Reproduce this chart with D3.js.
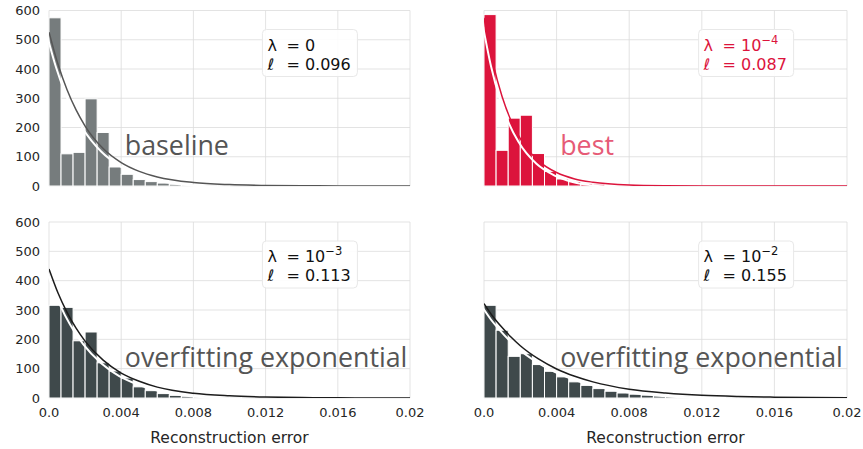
<!DOCTYPE html>
<html>
<head>
<meta charset="utf-8">
<script src="https://cdn.jsdelivr.net/npm/d3@7"></script>
<style>
  body { margin: 0; background: #fff; }
  svg { display: block; }
  text { font-family: "DejaVu Sans", sans-serif; }
</style>
</head>
<body>
<svg id="chart" width="863" height="449"></svg>
<script>
// 30 bins between 0 and 0.02
const binCount = 30
const xMax = 0.02

const baselineCounts = [575, 110, 115, 298, 183, 65, 40, 22, 15, 10, 6, 4, 2, 1, 1, 0, 0, 0, 0, 0, 0, 0, 0, 0, 0, 0, 0, 0, 0, 0]
const bestCounts = [586, 122, 232, 242, 111, 50, 24, 15, 8, 6, 3, 2, 1, 1, 0, 0, 0, 0, 0, 0, 0, 0, 0, 0, 0, 0, 0, 0, 0, 0]
const lam3Counts = [316, 309, 195, 225, 120, 92, 68, 38, 25, 15, 9, 6, 4, 2, 1, 1, 0, 0, 0, 0, 0, 0, 0, 0, 0, 0, 0, 0, 0, 0]
const lam2Counts = [316, 231, 142, 151, 114, 91, 72, 55, 43, 32, 23, 17, 13, 10, 7, 5, 4, 3, 2, 2, 1, 1, 1, 0, 0, 0, 0, 0, 0, 0]

// fitted exponential curves
const curveX = [0, 0.0005, 0.001, 0.0015, 0.002, 0.003, 0.004, 0.005, 0.006, 0.008, 0.01, 0.012, 0.014, 0.016, 0.018, 0.02]
const baselineCurve = [526, 416, 329, 260, 205, 128, 80, 50, 31, 12, 4.8, 1.9, 0.7, 0.3, 0.1, 0]
const bestCurve = [575, 419, 305, 222, 162, 86, 46, 24, 13, 3.6, 1, 0.3, 0.1, 0, 0, 0]
const lam3Curve = [440, 358, 292, 238, 194, 129, 85, 57, 37, 16, 7.3, 3.2, 1.4, 0.6, 0.3, 0.1]
const lam2Curve = [322, 277, 240, 207, 178, 133, 99, 74, 55, 30, 17, 9, 5, 2.9, 1.6, 0.9]

const xTicks = [0, 0.004, 0.008, 0.012, 0.016, 0.02]
const xTickLabels = ["0.0", "0.004", "0.008", "0.012", "0.016", "0.02"]
const yTicks = [0, 100, 200, 300, 400, 500, 600]

const lambdaLabels = [["0", null], ["10", "\u22124"], ["10", "\u22123"], ["10", "\u22122"]]
const lossLabels = ["0.096", "0.087", "0.113", "0.155"]
const panelTitles = ["baseline", "best", "overfitting exponential", "overfitting exponential"]

const panels = [
  { counts: baselineCounts, curve: baselineCurve, bar: "#767c7d", line: "#555555", title: "#555555", note: "#111111", x: [49, 410], y: [186, 10.5], yLabels: true, xLabels: false },
  { counts: bestCounts, curve: bestCurve, bar: "#dc143c", line: "#dc143c", title: "#e65a76", note: "#dc143c", x: [484, 847], y: [186, 10.5], yLabels: false, xLabels: false },
  { counts: lam3Counts, curve: lam3Curve, bar: "#3f494b", line: "#1c1c1c", title: "#555555", note: "#111111", x: [49, 410], y: [398, 222], yLabels: true, xLabels: true },
  { counts: lam2Counts, curve: lam2Curve, bar: "#3f494b", line: "#1c1c1c", title: "#555555", note: "#111111", x: [484, 847], y: [398, 222], yLabels: false, xLabels: true }
]

const svg = d3.select("#chart")
const binW = xMax / binCount

panels.forEach((p, i) => {
  const x = d3.scaleLinear().domain([0, xMax]).range(p.x)
  const y = d3.scaleLinear().domain([0, 600]).range(p.y)
  const g = svg.append("g")

  g.append("clipPath").attr("id", `clip${i}`)
    .append("rect")
      .attr("x", p.x[0]).attr("y", p.y[1])
      .attr("width", p.x[1] - p.x[0]).attr("height", p.y[0] - p.y[1])

  // grid
  g.selectAll(".gx").data(xTicks).enter().append("line")
    .attr("x1", d => x(d)).attr("x2", d => x(d))
    .attr("y1", p.y[0]).attr("y2", p.y[1])
    .style("stroke", "#dcdcdc").style("stroke-width", 0.8)
  g.selectAll(".gy").data(yTicks).enter().append("line")
    .attr("x1", p.x[0]).attr("x2", p.x[1])
    .attr("y1", d => y(d)).attr("y2", d => y(d))
    .style("stroke", "#dcdcdc").style("stroke-width", 0.8)

  // bars
  g.selectAll(".bar").data(p.counts).enter().append("rect")
    .attr("x", (d, k) => x(k * binW))
    .attr("width", (d, k) => x((k + 1) * binW) - x(k * binW))
    .attr("y", d => y(d))
    .attr("height", d => y(0) - y(d))
    .style("fill", p.bar)
    .style("stroke", "#fff")
    .style("stroke-width", 1)

  // label inside the panel
  g.append("text")
    .attr("x", x(0.0042)).attr("y", y(105))
    .style("font-family", "'Open Sans', sans-serif")
    .style("font-size", "26.8px")
    .style("fill", p.title)
    .text(panelTitles[i])

  // curve with white shadow
  const line = d3.line()
    .x((d, k) => x(curveX[k]))
    .y(d => y(d))
    .curve(d3.curveMonotoneX)
  g.append("path")
    .attr("d", line(p.curve))
    .attr("clip-path", `url(#clip${i})`)
    .attr("transform", "translate(-2,3)")
    .style("fill", "none").style("stroke", "#fff").style("stroke-width", 2)
  g.append("path")
    .attr("d", line(p.curve))
    .attr("clip-path", `url(#clip${i})`)
    .style("fill", "none").style("stroke", p.line).style("stroke-width", 1.5)

  // annotation box
  const bx = x(0.0121)
  const by = y(600) + 20
  const note = g.append("g")
  note.append("rect")
    .attr("x", bx - 5).attr("y", by - 1)
    .attr("width", 95).attr("height", 47)
    .attr("rx", 4)
    .style("fill", "#fff").style("fill-opacity", 0.9)
    .style("stroke", "#e8e8e8")
  const t1 = note.append("text").attr("y", by + 20).style("font-size", "16px").style("fill", p.note)
  t1.append("tspan").attr("x", bx).text("\u03bb")
  t1.append("tspan").attr("x", bx + 19).text("= " + lambdaLabels[i][0])
  if (lambdaLabels[i][1]) {
    t1.append("tspan").attr("dy", -7).style("font-size", "11.5px").text(lambdaLabels[i][1])
  }
  const t2 = note.append("text").attr("y", by + 39).style("font-size", "16px").style("fill", p.note)
  t2.append("tspan").attr("x", bx).text("\u2113")
  t2.append("tspan").attr("x", bx + 19).text("= " + lossLabels[i])

  // ticks
  if (p.yLabels) {
    g.selectAll(".yl").data(yTicks).enter().append("text")
      .attr("x", p.x[0] - 9).attr("y", d => y(d))
      .attr("dy", "0.35em")
      .attr("text-anchor", "end")
      .style("font-size", "13px").style("fill", "#262626")
      .text(d => d)
  }
  if (p.xLabels) {
    g.selectAll(".xl").data(xTicks).enter().append("text")
      .attr("x", d => x(d)).attr("y", p.y[0] + 19)
      .attr("text-anchor", "middle")
      .style("font-size", "13px").style("fill", "#262626")
      .text((d, k) => xTickLabels[k])
    g.append("text")
      .attr("x", (p.x[0] + p.x[1]) / 2).attr("y", p.y[0] + 45)
      .attr("text-anchor", "middle")
      .style("font-size", "15.5px").style("fill", "#262626")
      .text("Reconstruction error")
  }
})
</script>
</body>
</html>
